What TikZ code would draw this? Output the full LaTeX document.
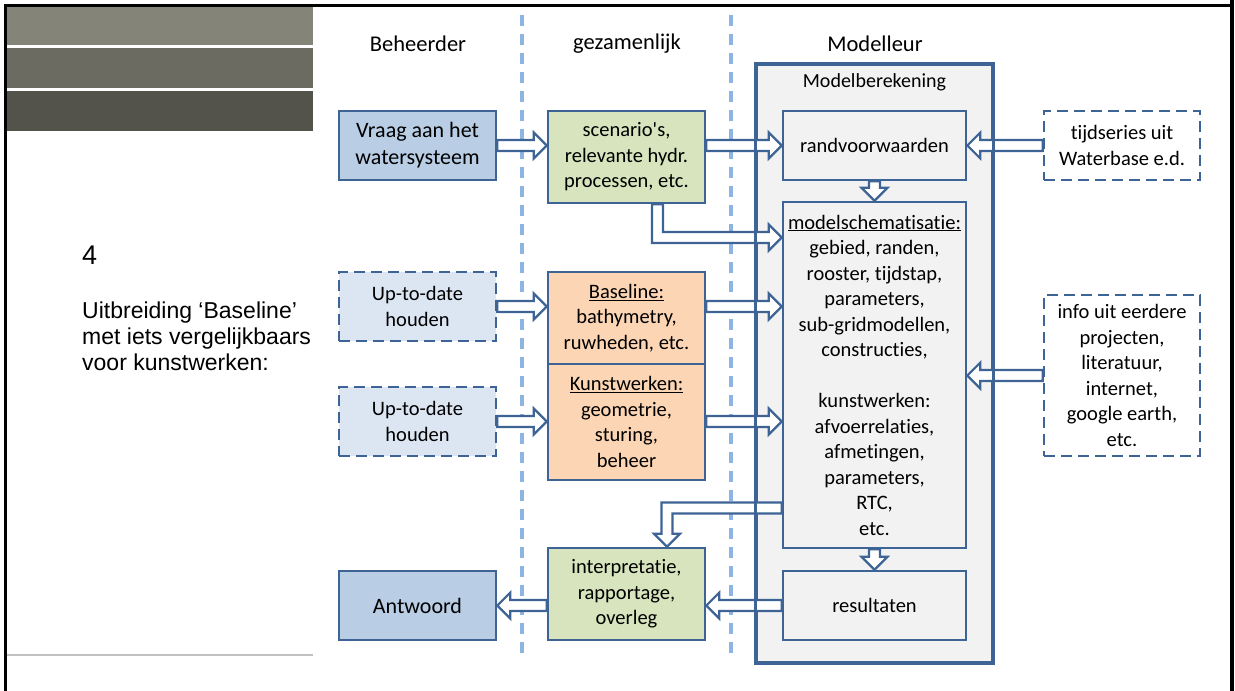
\documentclass[tikz,border=0pt]{standalone}
\usepackage{fontspec}
\setmainfont{Carlito}[Ligatures={NoCommon,NoContextual,NoRare},Contextuals=NoAlternate]
\newfontfamily\arialfont{Liberation Sans}
\usetikzlibrary{calc}

\definecolor{edge}{RGB}{62,100,150}
\definecolor{askblue}{RGB}{185,205,229}
\definecolor{paleblue}{RGB}{220,230,242}
\definecolor{leafgreen}{RGB}{215,228,189}
\definecolor{peach}{RGB}{252,213,181}
\definecolor{panelgray}{RGB}{242,242,242}
\definecolor{guideblue}{RGB}{142,180,227}
\definecolor{bandA}{RGB}{132,132,120}
\definecolor{bandB}{RGB}{107,107,98}
\definecolor{bandC}{RGB}{83,83,75}
\definecolor{sepgray}{RGB}{192,192,192}

% block arrow geometry
\def\arsw{5.5pt}
\def\arhw{13pt}
\def\arhl{13pt}

% right-pointing block arrow, height taken from the start point
\newcommand\arrR[2]{\draw[blockarrow] let \p1=(#1), \p2=(#2) in
  (\x1,\y1+\arsw) -- (\x2-\arhl,\y1+\arsw) -- (\x2-\arhl,\y1+\arhw) -- (\x2,\y1)
  -- (\x2-\arhl,\y1-\arhw) -- (\x2-\arhl,\y1-\arsw) -- (\x1,\y1-\arsw) -- cycle;}
% left-pointing block arrow
\newcommand\arrL[2]{\draw[blockarrow] let \p1=(#1), \p2=(#2) in
  (\x1,\y1+\arsw) -- (\x2+\arhl,\y1+\arsw) -- (\x2+\arhl,\y1+\arhw) -- (\x2,\y1)
  -- (\x2+\arhl,\y1-\arhw) -- (\x2+\arhl,\y1-\arsw) -- (\x1,\y1-\arsw) -- cycle;}
% downward block arrow
\newcommand\arrD[2]{\draw[blockarrow] let \p1=(#1), \p2=(#2) in
  (\x1-\arsw,\y1) -- (\x1-\arsw,\y2+\arhl) -- (\x1-\arhw,\y2+\arhl) -- (\x1,\y2)
  -- (\x1+\arhw,\y2+\arhl) -- (\x1+\arsw,\y2+\arhl) -- (\x1+\arsw,\y1) -- cycle;}

\begin{document}
\begin{tikzpicture}[x=1pt,y=-1pt,
  box/.style={draw=edge, line width=2.6pt, align=center, inner sep=0pt,
    font=\fontsize{20.5}{25.5}\selectfont, text=black},
  bigbox/.style={box, font=\fontsize{22}{27}\selectfont},
  dashbox/.style={box, dash pattern=on 11pt off 6pt},
  blockarrow/.style={draw=edge, fill=white, line width=2.2pt, line join=miter},
  guide/.style={draw=guideblue, line width=3.2pt, dash pattern=on 11pt off 8pt},
  header/.style={font=\fontsize{22.5}{26}\selectfont, text=black}]
\useasboundingbox (0,0) rectangle (1235,691);

% slide frame and title bands
\fill[bandA] (7,7) rectangle (313,45);
\fill[bandB] (7,48) rectangle (313,88);
\fill[bandC] (7,91) rectangle (313,131);
\draw[sepgray, line width=1.5pt] (7,655) -- (313,655);
\fill[black] (4,3.5) rectangle (1233,6.5);
\fill[black] (4,3.5) rectangle (7,691);
\fill[black] (1229.5,0) rectangle (1233.5,691);

% slide text
\node[font=\arialfont\fontsize{27}{30}\selectfont, anchor=west, inner sep=0pt] (num) at (82,255.5) {4};
\node[font=\arialfont\fontsize{23}{26}\selectfont, anchor=west, align=left, inner sep=0pt] (intro) at (82,336)
  {Uitbreiding ‘Baseline’\\met iets vergelijkbaars\\voor kunstwerken:};

% column guides
\draw[guide] (522,15) -- (522,657);
\draw[guide] (731,15) -- (731,657);

% column headers
\node[header] (hBeh) at (418,44) {Beheerder};
\node[header] (hGez) at (627,44) {gezamenlijk};
\node[header] (hMod) at (875,44) {Modelleur};

% model panel
\node[box, fill=panelgray, minimum width=235pt, minimum height=597pt] (model) at (874.5,363.5) {};
\node[font=\fontsize{20}{24}\selectfont] (modeltitle) at (874.5,82.5) {Modelberekening};

% boxes
\node[bigbox, fill=askblue, minimum width=157pt, minimum height=69pt] (vraag) at (417.5,145.5)
  {Vraag aan het\\watersysteem};
\node[box, fill=leafgreen, minimum width=157pt, minimum height=92pt] (scen) at (626.5,157)
  {scenario\textquotesingle s,\\relevante hydr.\\processen, etc.};
\node[box, fill=panelgray, minimum width=183pt, minimum height=69pt] (rand) at (874.5,145.5)
  {randvoorwaarden};
\node[box, fill=panelgray, minimum width=183pt, minimum height=346pt] (schem) at (874.5,375)
  {\underline{modelschematisatie:}\\gebied, randen,\\rooster, tijdstap,\\parameters,\\sub-gridmodellen,\\constructies,\\[25.5pt]kunstwerken:\\afvoerrelaties,\\afmetingen,\\parameters,\\RTC,\\etc.};
\node[box, fill=panelgray, minimum width=183pt, minimum height=69pt] (res) at (874.5,605.5)
  {resultaten};
\node[dashbox, fill=white, minimum width=156pt, minimum height=69pt] (tijd) at (1122,145.5)
  {tijdseries uit\\Waterbase e.d.};
\node[dashbox, fill=white, minimum width=156pt, minimum height=161pt] (info) at (1122,375.5)
  {info uit eerdere\\projecten,\\literatuur,\\internet,\\google earth,\\etc.};
\node[dashbox, fill=paleblue, minimum width=157pt, minimum height=69pt] (up1) at (417.5,306.5)
  {Up-to-date\\houden};
\node[dashbox, fill=paleblue, minimum width=157pt, minimum height=69pt] (up2) at (417.5,421.5)
  {Up-to-date\\houden};
\node[box, fill=peach, minimum width=157pt, minimum height=92pt] (base) at (626.5,318)
  {\underline{Baseline:}\\bathymetry,\\ruwheden, etc.};
\node[box, fill=peach, minimum width=157pt, minimum height=116pt] (kunst) at (626.5,422)
  {\underline{Kunstwerken:}\\geometrie,\\sturing,\\beheer};
\node[box, fill=leafgreen, minimum width=157pt, minimum height=92pt] (interp) at (626.5,594)
  {interpretatie,\\rapportage,\\overleg};
\node[bigbox, fill=askblue, minimum width=157pt, minimum height=69pt] (antw) at (417.5,605.5)
  {Antwoord};

% straight block arrows
\arrR{vraag.east}{scen.west}
\arrR{scen.east |- rand.west}{rand.west}
\arrR{up1.east}{base.west}
\arrR{up2.east}{kunst.west}
\arrR{base.east |- up1.east}{up1.east -| schem.west}
\arrR{kunst.east |- up2.east}{up2.east -| schem.west}
\arrL{tijd.west}{rand.east}
\arrL{info.west}{info.west -| schem.east}
\arrD{rand.south}{schem.north}
\arrD{schem.south}{res.north}
\arrL{res.west}{interp.east}
\arrL{interp.west |- antw.east}{antw.east}

% elbow arrow: scenarios down into the schematisation
\coordinate (bendA) at (657.5,237.5);
\draw[blockarrow] let \p1=(scen.south), \p2=(bendA), \p3=(schem.west) in
  (\x2-\arsw,\y1) -- (\x2-\arsw,\y2-\arsw) -- (\x3-\arhl,\y2-\arsw) -- (\x3-\arhl,\y2-\arhw)
  -- (\x3,\y2) -- (\x3-\arhl,\y2+\arhw) -- (\x3-\arhl,\y2+\arsw) -- (\x2+\arsw,\y2+\arsw)
  -- (\x2+\arsw,\y1) -- cycle;

% elbow arrow: schematisation back to interpretation
\coordinate (bendB) at (667,508);
\draw[blockarrow] let \p1=(interp.north), \p2=(bendB), \p3=(schem.west) in
  (\x3,\y2+\arsw) -- (\x2-\arsw,\y2+\arsw) -- (\x2-\arsw,\y1+\arhl) -- (\x2-\arhw,\y1+\arhl)
  -- (\x2,\y1) -- (\x2+\arhw,\y1+\arhl) -- (\x2+\arsw,\y1+\arhl) -- (\x2+\arsw,\y2-\arsw)
  -- (\x3,\y2-\arsw) -- cycle;

% panel outline stays visible across the arrows
\draw[edge, line width=2.6pt] (model.north west) rectangle (model.south east);
\end{tikzpicture}
\end{document}
